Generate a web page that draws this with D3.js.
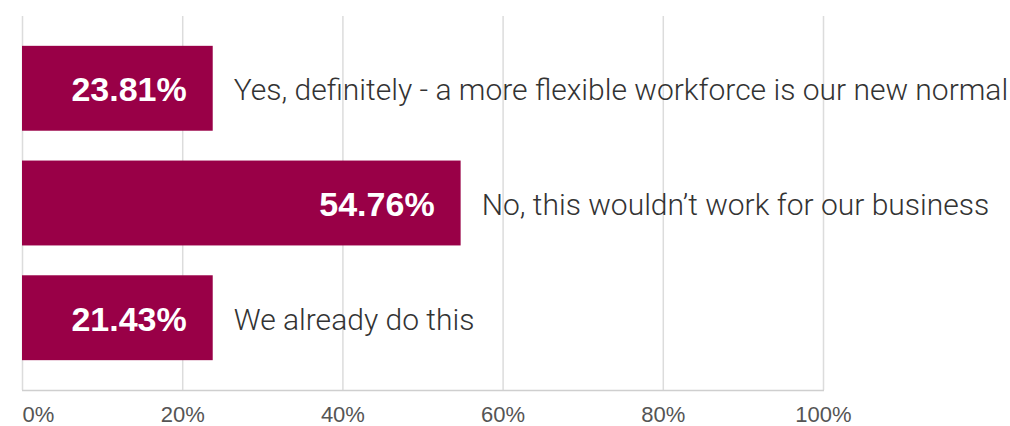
<!DOCTYPE html>
<html>
<head>
<meta charset="utf-8">
<script src="https://cdn.jsdelivr.net/npm/d3@7"></script>
<style>
  html, body { margin: 0; padding: 0; background: #fff; }
  svg { display: block; }
  .cat { font-family: Roboto, "Liberation Sans", sans-serif; font-weight: 300; fill: #333; }
  .val { font-family: "Liberation Sans", Arial, sans-serif; font-weight: bold; fill: #fff; }
  .tick text { font-family: "Liberation Sans", Arial, sans-serif; fill: #555; }
</style>
</head>
<body>
<div id="chart"></div>
<script>
// answers shown as bars
var categories = [
  "Yes, definitely - a more flexible workforce is our new normal",
  "No, this wouldn\u2019t work for our business",
  "We already do this"
];
// bar lengths as drawn in the reference (third bar is drawn as long as the first)
var barValues = [23.81, 54.76, 23.81];
// value labels printed on the bars
var valueLabels = ["23.81%", "54.76%", "21.43%"];
var tickValues = [0, 20, 40, 60, 80, 100];

var w = 1010, h = 426;
var padL = 22, padR = 823, padT = 16, padB = 390;
var barColor = "#990047";

var svg = d3.select("#chart").append("svg")
    .attr("width", w)
    .attr("height", h);

var x = d3.scaleLinear().domain([0, 100]).range([padL, padR]);
var y = d3.scaleBand().domain(categories).range([padT, padB])
    .paddingInner(0.26).paddingOuter(0.26);

// grid lines
svg.append("g").selectAll("line").data(tickValues).enter().append("line")
    .attr("x1", d => x(d) + 0.5).attr("x2", d => x(d) + 0.5)
    .attr("y1", padT).attr("y2", padB)
    .style("stroke", "#dcdcdc").style("stroke-width", 1.5);

// baseline
svg.append("line")
    .attr("x1", padL).attr("x2", padR + 1)
    .attr("y1", padB + 0.5).attr("y2", padB + 0.5)
    .style("stroke", "#cfcfcf").style("stroke-width", 1.5);

// x axis labels
var xAxis = d3.axisBottom(x).tickValues(tickValues)
    .tickFormat(d => d + "%").tickSize(0).tickPadding(0);
var ax = svg.append("g")
    .attr("class", "xaxis")
    .attr("transform", "translate(0," + padB + ")")
    .call(xAxis);
ax.select(".domain").remove();
ax.selectAll("text")
    .attr("y", 32).attr("dy", 0)
    .style("font-size", "22px")
    .attr("text-anchor", (d, i) => i === 0 ? "start" : "middle");

// bars
var rows = svg.append("g").selectAll("g").data(categories).enter().append("g");

rows.append("rect")
    .attr("x", padL)
    .attr("y", d => y(d))
    .attr("width", (d, i) => x(barValues[i]) - padL)
    .attr("height", y.bandwidth())
    .style("fill", barColor);

rows.append("text")
    .attr("class", "val")
    .attr("x", (d, i) => x(barValues[i]) - 26)
    .attr("y", d => y(d) + y.bandwidth() / 2 + 13)
    .attr("text-anchor", "end")
    .style("font-size", "34px")
    .text((d, i) => valueLabels[i]);

rows.append("text")
    .attr("class", "cat")
    .attr("x", (d, i) => x(barValues[i]) + 21)
    .attr("y", d => y(d) + y.bandwidth() / 2 + 12)
    .style("font-size", "30px")
    .text(d => d);
</script>
</body>
</html>
